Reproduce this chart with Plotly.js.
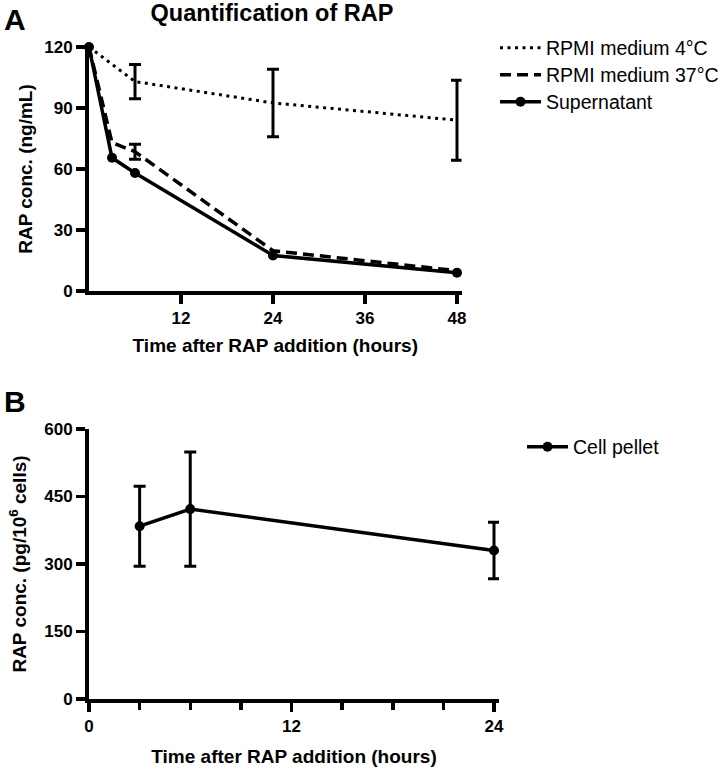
<!DOCTYPE html>
<html>
<head>
<meta charset="utf-8">
<script src="https://cdn.plot.ly/plotly-3.0.1.min.js"></script>
<style>html,body{margin:0;padding:0;background:#fff;overflow:hidden;}#chart{width:723px;height:770px;}</style>
</head>
<body>
<div id="chart"></div>
<script>
// Panel A data
const timeA = [0, 3, 6, 24, 48];
const time4C = [0, 6, 24, 48];
const rpmi4C = [120, 103, 92.5, 84];
const rpmi4CErr = [NaN, 8.4, 16.6, 19.7];
const rpmi37C = [120, 73, 68.5, 19.8, 10];
const rpmi37CErr = [NaN, NaN, 3.7, NaN, NaN];
const supernatant = [120, 65.5, 58, 17.5, 9];
const ticksA_x = [12, 24, 36, 48];
const ticksA_y = [0, 30, 60, 90, 120];

// Panel B data
const timeB = [3, 6, 24];
const pellet = [384, 422, 330];
const pelletErr = [89, 127, 63];
const ticksB_x = [0, 12, 24];
const minorB_x = [3, 6, 9, 15, 18, 21];
const ticksB_y = [0, 150, 300, 450, 600];

const FONT = 'Liberation Sans, Arial, Helvetica, sans-serif';
const W = 723, H = 770;
const px = v => v / W;
const py = v => 1 - v / H;

const LW = 3.5;
const traces = [
  {
    x: time4C, y: rpmi4C, name: 'RPMI medium 4°C', mode: 'lines',
    line: {color: '#000', width: 3, dash: '3px,4.5px'},
    error_y: {type: 'data', array: rpmi4CErr, visible: true, color: '#000', thickness: 3, width: 6},
    xaxis: 'x', yaxis: 'y', legend: 'legend', cliponaxis: false
  },
  {
    x: timeA, y: rpmi37C, name: 'RPMI medium 37°C', mode: 'lines',
    line: {color: '#000', width: LW, dash: '11px,6px'},
    error_y: {type: 'data', array: rpmi37CErr, visible: true, color: '#000', thickness: 3, width: 6},
    xaxis: 'x', yaxis: 'y', legend: 'legend2', cliponaxis: false
  },
  {
    x: timeA, y: supernatant, name: 'Supernatant', mode: 'lines+markers',
    line: {color: '#000', width: LW},
    marker: {color: '#000', size: 10, symbol: 'circle'},
    xaxis: 'x', yaxis: 'y', legend: 'legend3', cliponaxis: false
  },
  {
    x: timeB, y: pellet, name: 'Cell pellet', mode: 'lines+markers',
    line: {color: '#000', width: LW},
    marker: {color: '#000', size: 10, symbol: 'circle'},
    error_y: {type: 'data', array: pelletErr, visible: true, color: '#000', thickness: 3, width: 6},
    xaxis: 'x2', yaxis: 'y2', legend: 'legend4', cliponaxis: false
  }
];

const axisCommon = {
  showline: true, linewidth: 4, linecolor: '#000',
  ticks: 'outside', tickwidth: 3.5, ticklen: 9, tickcolor: '#000',
  showgrid: false, zeroline: false,
  tickfont: {family: FONT, size: 17, color: '#000', weight: 'bold'},
  fixedrange: true, automargin: false
};
const titleFont = {family: FONT, size: 19, color: '#000', weight: 'bold'};

// x positions: panel A 0 h at 89 px, 48 h at 457 px; panel B 0 h at 89 px, 24 h at 494 px
const xAmax = 48.6, xBmax = 24.3;
const pxPerHA = (457 - 89) / 48, pxPerHB = (494 - 89) / 24;

function legendBox(yc) {
  return {
    x: px(495), xanchor: 'left', y: py(yc), yanchor: 'middle',
    bgcolor: 'rgba(0,0,0,0)', borderwidth: 0,
    font: {family: FONT, size: 19.5, color: '#000'},
    itemwidth: 41
  };
}

const layout = {
  width: W, height: H,
  margin: {l: 0, r: 0, t: 0, b: 0, pad: 0, autoexpand: false},
  paper_bgcolor: '#fff', plot_bgcolor: '#fff',
  showlegend: true,
  title: {
    text: 'Quantification of RAP',
    font: {family: FONT, size: 23.5, color: '#000', weight: 'bold'},
    x: px(272), xanchor: 'center', xref: 'paper',
    y: py(13), yanchor: 'middle', yref: 'paper'
  },
  xaxis: Object.assign({}, axisCommon, {
    domain: [px(89), px(89 + xAmax * pxPerHA)], anchor: 'y', range: [0, xAmax],
    tickmode: 'array', tickvals: ticksA_x,
    title: {text: 'Time after RAP addition (hours)', font: titleFont, standoff: 12}
  }),
  yaxis: Object.assign({}, axisCommon, {
    domain: [py(291), py(47)], anchor: 'x', range: [0, 120],
    tickmode: 'array', tickvals: ticksA_y,
    title: {text: 'RAP conc. (ng/mL)', font: titleFont, standoff: 8}
  }),
  xaxis2: Object.assign({}, axisCommon, {
    domain: [px(89), px(89 + xBmax * pxPerHB)], anchor: 'y2', range: [0, xBmax],
    tickmode: 'array', tickvals: ticksB_x,
    minor: {tickmode: 'array', tickvals: minorB_x, ticks: 'outside', ticklen: 7, tickwidth: 3.5, tickcolor: '#000', showgrid: false},
    title: {text: 'Time after RAP addition (hours)', font: titleFont, standoff: 15}
  }),
  yaxis2: Object.assign({}, axisCommon, {
    domain: [py(699), py(429)], anchor: 'x2', range: [0, 600],
    tickmode: 'array', tickvals: ticksB_y,
    title: {text: 'RAP conc. (pg/10<sup>6</sup> cells)', font: titleFont, standoff: 14}
  }),
  legend: legendBox(48),
  legend2: legendBox(75),
  legend3: legendBox(102),
  legend4: Object.assign(legendBox(447), {x: px(522)}),
  annotations: [
    {text: 'A', x: px(15), y: py(1), xref: 'paper', yref: 'paper', xanchor: 'center', yanchor: 'top', showarrow: false,
     font: {family: FONT, size: 30, color: '#000', weight: 'bold'}},
    {text: 'B', x: px(15), y: py(383), xref: 'paper', yref: 'paper', xanchor: 'center', yanchor: 'top', showarrow: false,
     font: {family: FONT, size: 30, color: '#000', weight: 'bold'}}
  ]
};

Plotly.newPlot('chart', traces, layout, {staticPlot: true, displayModeBar: false});
</script>
</body>
</html>
